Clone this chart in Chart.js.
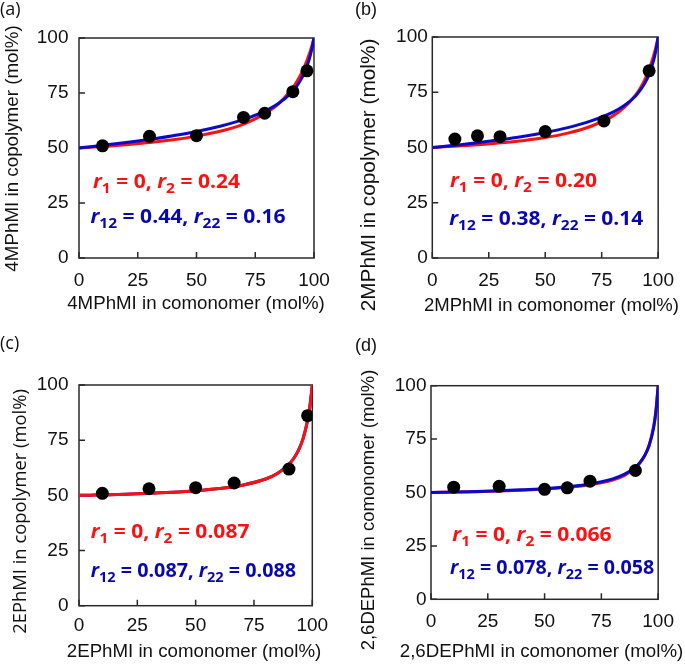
<!DOCTYPE html>
<html>
<head>
<meta charset="utf-8">
<script src="https://cdn.jsdelivr.net/npm/chart.js@4.4.1/dist/chart.umd.min.js"></script>
<style>
  body { margin: 0; background: #fff; }
  .panel { position: absolute; }
</style>
</head>
<body>
<canvas id="chartA" class="panel" width="342" height="330" style="left:0;top:0"></canvas>
<canvas id="chartB" class="panel" width="343" height="330" style="left:342px;top:0"></canvas>
<canvas id="chartC" class="panel" width="342" height="334" style="left:0;top:330px"></canvas>
<canvas id="chartD" class="panel" width="343" height="334" style="left:342px;top:330px"></canvas>
<script>
const curveX = [0, 5, 10, 20, 30, 40, 50, 60, 70, 80, 85, 90, 92, 94, 96, 98, 99, 100];
const axisTicks = [0, 25, 50, 75, 100];

// (a) 4MPhMI
const aExpX = [10, 30, 50, 70, 79, 91, 97];
const aExpY = [51.0, 55.3, 55.6, 63.9, 65.8, 75.6, 85.1];
const aRedY = [50, 50.3, 50.7, 51.5, 52.5, 53.7, 55.4, 57.6, 60.9, 66.2, 70.2, 76.0, 79.0, 82.6, 87.1, 92.7, 96.1, 100];
const aBlueY = [50, 50.6, 51.2, 52.5, 53.9, 55.6, 57.5, 59.9, 62.9, 67.2, 70.3, 74.7, 77.1, 80.3, 84.4, 90.4, 94.6, 100];

// (b) 2MPhMI
const bExpX = [10, 20, 30, 50, 76, 96];
const bExpY = [53.8, 55.3, 54.9, 57.2, 62.0, 84.7];
const bRedY = [50, 50.3, 50.6, 51.2, 52.1, 53.1, 54.5, 56.5, 59.5, 64.3, 68.1, 73.7, 76.7, 80.5, 85.3, 91.5, 95.4, 100];
const bBlueY = [50, 50.5, 51.0, 52.2, 53.5, 55.0, 56.8, 59.0, 61.9, 66.0, 69.0, 73.3, 75.8, 78.9, 83.1, 89.4, 93.9, 100];

// (c) 2EPhMI
const cExpX = [10, 30, 50, 66.5, 90, 98];
const cExpY = [50.9, 53.0, 53.5, 55.6, 61.9, 86.1];
const cRedY = [50, 50.1, 50.2, 50.5, 50.9, 51.4, 52.1, 53.1, 54.6, 57.4, 59.9, 64.1, 66.7, 70.3, 75.5, 84.0, 90.6, 100];
const cBlueY = [50, 50.1, 50.2, 50.5, 50.9, 51.4, 52.1, 53.1, 54.6, 57.4, 59.9, 64.1, 66.7, 70.3, 75.6, 84.1, 90.7, 100];

// (d) 2,6DEPhMI
const dExpX = [10, 30, 50, 60, 70, 90];
const dExpY = [52.5, 52.9, 51.5, 52.2, 55.3, 60.3];
const dRedY = [50, 50.1, 50.2, 50.4, 50.7, 51.1, 51.6, 52.4, 53.6, 55.8, 57.9, 61.5, 63.8, 67.0, 72.1, 80.9, 88.3, 100];
const dBlueY = [50, 50.1, 50.2, 50.5, 50.8, 51.3, 51.8, 52.7, 54.0, 56.4, 58.5, 61.9, 64.1, 67.2, 71.9, 80.2, 87.5, 100];

const RED = '#ff1010';
const BLUE = '#0a0acc';
const BLUE_TEXT = '#0707b4';
const AXIS = '#2a2a2a';
const ARIAL = '"Liberation Sans", Arial, sans-serif';
const CALIBRI = '"Open Sans", "Noto Sans", sans-serif';

function pts(xs, ys) {
    return xs.map(function (x, i) { return { x: x, y: ys[i] }; });
}

// "r_{12} = 0.44" -> italic r with subscript
function parseRich(str) {
    const parts = [];
    str.split(/(r_\{\d+\})/).forEach(function (tok) {
        if (!tok) return;
        const m = tok.match(/^r_\{(\d+)\}$/);
        if (m) {
            parts.push({ t: 'r', i: true });
            parts.push({ t: m[1], s: true });
        } else {
            parts.push({ t: tok });
        }
    });
    return parts;
}

function drawRich(ctx, str, x, y, size, color, targetW) {
    const parts = parseRich(str);
    const fontFor = function (p) {
        const sz = p.s ? Math.round(size * 0.74) : size;
        return (p.i ? 'italic ' : '') + 'bold ' + sz + 'px ' + CALIBRI;
    };
    let w = 0;
    parts.forEach(function (p) { ctx.font = fontFor(p); w += ctx.measureText(p.t).width; });
    ctx.save();
    ctx.translate(x, y);
    ctx.scale(targetW / w, 1);
    ctx.fillStyle = color;
    ctx.textBaseline = 'alphabetic';
    ctx.textAlign = 'left';
    let cx = 0;
    parts.forEach(function (p) {
        ctx.font = fontFor(p);
        ctx.fillText(p.t, cx, p.s ? size * 0.28 : 0);
        cx += ctx.measureText(p.t).width;
    });
    ctx.restore();
}

// text sized to the length it has in the figure
function drawFitted(ctx, text, cx, cy, family, targetW, rotate) {
    ctx.save();
    ctx.font = '18px ' + family;
    const size = Math.round(18 * targetW / ctx.measureText(text).width * 10) / 10;
    ctx.font = size + 'px ' + family;
    ctx.fillStyle = '#111';
    ctx.textAlign = 'center';
    ctx.textBaseline = 'middle';
    ctx.translate(cx, cy);
    if (rotate) ctx.rotate(-Math.PI / 2);
    ctx.fillText(text, 0, 0);
    ctx.restore();
}

function decorPlugin(p) {
    return {
        id: 'decor',
        beforeDatasetsDraw: function (chart) {
            const ctx = chart.ctx;
            const a = chart.chartArea;
            const xs = chart.scales.x, ys = chart.scales.y;
            ctx.save();
            ctx.strokeStyle = AXIS;
            ctx.lineWidth = 1.5;
            ctx.strokeRect(a.left, a.top, a.right - a.left, a.bottom - a.top);
            ctx.beginPath();
            axisTicks.forEach(function (v) {
                const px = xs.getPixelForValue(v);
                ctx.moveTo(px, a.bottom);
                ctx.lineTo(px, a.bottom - 6);
                const py = ys.getPixelForValue(v);
                ctx.moveTo(a.left, py);
                ctx.lineTo(a.left + 6, py);
            });
            ctx.stroke();
            ctx.restore();
        },
        afterDraw: function (chart) {
            const ctx = chart.ctx;
            drawRich(ctx, p.redNote, p.redPos[0], p.redPos[1], 19, RED, p.redPos[2]);
            drawRich(ctx, p.blueNote, p.bluePos[0], p.bluePos[1], 19, BLUE_TEXT, p.bluePos[2]);
            drawFitted(ctx, p.xTitle, p.xTitlePos[0], p.xTitlePos[1], ARIAL, p.xTitlePos[2], false);
            drawFitted(ctx, p.yTitle, p.yTitlePos[0], p.yTitlePos[1], p.yTitleFont, p.yTitlePos[2], true);
            ctx.save();
            ctx.font = '18px ' + p.tagFont;
            ctx.fillStyle = '#111';
            ctx.textBaseline = 'middle';
            ctx.textAlign = 'left';
            ctx.fillText(p.tag, p.tagPos[0], p.tagPos[1]);
            ctx.restore();
        }
    };
}

function makePanel(p) {
    const canvas = document.getElementById(p.id);
    const W = canvas.width, H = canvas.height;
    const curveSet = function (ys, color) {
        return {
            data: pts(curveX, ys),
            showLine: true,
            borderColor: color,
            borderWidth: 3,
            pointRadius: 0,
            cubicInterpolationMode: 'monotone'
        };
    };
    const red = curveSet(p.red, RED);
    const blue = curveSet(p.blue, BLUE);
    const datasets = [{
        data: pts(p.expX, p.expY),
        showLine: false,
        pointRadius: 6.5,
        pointBackgroundColor: '#000',
        pointBorderWidth: 0
    }];
    if (p.redOnTop) datasets.push(red, blue); else datasets.push(blue, red);

    const tickFont = { family: ARIAL, size: 19 };
    new Chart(canvas, {
        type: 'scatter',
        data: { datasets: datasets },
        options: {
            responsive: false,
            animation: false,
            layout: { padding: { left: 0, top: p.area.t, right: W - p.area.r, bottom: 0 } },
            plugins: { legend: { display: false }, tooltip: { enabled: false } },
            scales: {
                x: {
                    type: 'linear', min: 0, max: 100,
                    grid: { display: false, drawTicks: false },
                    border: { display: false },
                    ticks: { stepSize: 25, font: tickFont, color: '#111', padding: p.xPad, maxRotation: 0 },
                    afterFit: function (s) { s.height = H - p.area.b; }
                },
                y: {
                    type: 'linear', min: 0, max: 100,
                    grid: { display: false, drawTicks: false },
                    border: { display: false },
                    ticks: { stepSize: 25, font: tickFont, color: '#111', padding: p.yPad },
                    afterFit: function (s) { s.width = p.area.l; }
                }
            }
        },
        plugins: [decorPlugin(p)]
    });
}

makePanel({
    id: 'chartA', area: { l: 79, t: 38, r: 314, b: 258 }, xPad: 11, yPad: 10.5,
    expX: aExpX, expY: aExpY, red: aRedY, blue: aBlueY, redOnTop: false,
    redNote: 'r_{1} = 0, r_{2} = 0.24', redPos: [93, 188, 147],
    blueNote: 'r_{12} = 0.44, r_{22} = 0.16', bluePos: [90.5, 223, 195],
    xTitle: '4MPhMI in comonomer (mol%)', xTitlePos: [196, 304, 258],
    yTitle: '4MPhMI in copolymer (mol%)', yTitlePos: [13, 148.5, 247], yTitleFont: ARIAL,
    tag: '(a)', tagPos: [0, 10], tagFont: CALIBRI
});
makePanel({
    id: 'chartB', area: { l: 90.3, t: 37, r: 325, b: 258 }, xPad: 11, yPad: 4.5,
    expX: bExpX, expY: bExpY, red: bRedY, blue: bBlueY, redOnTop: false,
    redNote: 'r_{1} = 0, r_{2} = 0.20', redPos: [108, 187, 147],
    blueNote: 'r_{12} = 0.38, r_{22} = 0.14', bluePos: [107.3, 225, 194],
    xTitle: '2MPhMI in comonomer (mol%)', xTitlePos: [209.5, 306, 255],
    yTitle: '2MPhMI in copolymer (mol%)', yTitlePos: [27.5, 175, 273], yTitleFont: ARIAL,
    tag: '(b)', tagPos: [13, 10], tagFont: ARIAL
});
makePanel({
    id: 'chartC', area: { l: 79, t: 55, r: 312.3, b: 275.7 }, xPad: 9, yPad: 10.5,
    expX: cExpX, expY: cExpY, red: cRedY, blue: cBlueY, redOnTop: true,
    redNote: 'r_{1} = 0, r_{2} = 0.087', redPos: [90.7, 207.7, 158.7],
    blueNote: 'r_{12} = 0.087, r_{22} = 0.088', bluePos: [90.7, 246.7, 205.3],
    xTitle: '2EPhMI in comonomer (mol%)', xTitlePos: [194, 321.5, 255],
    yTitle: '2EPhMI in copolymer (mol%)', yTitlePos: [20.5, 181.5, 245], yTitleFont: CALIBRI,
    tag: '(c)', tagPos: [0, 14], tagFont: CALIBRI
});
makePanel({
    id: 'chartD', area: { l: 89, t: 55.7, r: 321.3, b: 269.3 }, xPad: 11, yPad: 4.5,
    expX: dExpX, expY: dExpY, red: dRedY, blue: dBlueY, redOnTop: false,
    redNote: 'r_{1} = 0, r_{2} = 0.066', redPos: [110.3, 210.7, 159.3],
    blueNote: 'r_{12} = 0.078, r_{22} = 0.058', bluePos: [108, 244, 204.3],
    xTitle: '2,6DEPhMI in comonomer (mol%)', xTitlePos: [199.5, 322, 283],
    yTitle: '2,6DEPhMI in comonomer (mol%)', yTitlePos: [27, 180, 280], yTitleFont: ARIAL,
    tag: '(d)', tagPos: [13, 16], tagFont: ARIAL
});
</script>
</body>
</html>
